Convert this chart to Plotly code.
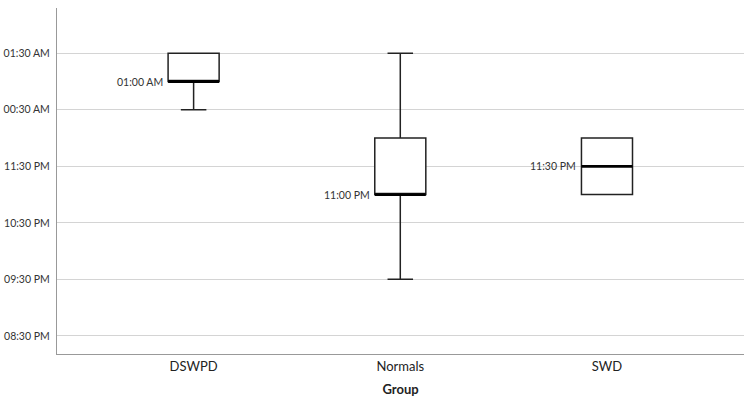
import plotly.graph_objects as go

# ---- data ----
groups = ["DSWPD", "Normals", "SWD"]
lower_whisker = ["00:30", "21:30", "23:00"]
q1_times = ["01:00", "23:00", "23:00"]
median_times = ["01:00", "23:00", "23:30"]
q3_times = ["01:30", "00:00", "00:00"]
upper_whisker = ["01:30", "01:30", "00:00"]
median_labels = ["01:00 AM", "11:00 PM", "11:30 PM"]
tick_times = ["20:30", "21:30", "22:30", "23:30", "00:30", "01:30"]
tick_labels = ["08:30 PM", "09:30 PM", "10:30 PM", "11:30 PM", "00:30 AM", "01:30 AM"]


def to_hours(t):
    h, m = map(int, t.split(":"))
    v = h + m / 60.0
    if v < 12:  # after midnight
        v += 24
    return v


lf = [to_hours(t) for t in lower_whisker]
q1 = [to_hours(t) for t in q1_times]
med = [to_hours(t) for t in median_times]
q3 = [to_hours(t) for t in q3_times]
uf = [to_hours(t) for t in upper_whisker]
tickvals = [to_hours(t) for t in tick_times]
xpos = list(range(len(groups)))
box_w = 0.247

fig = go.Figure()
fig.add_trace(go.Box(
    x=xpos, q1=q1, median=med, q3=q3, lowerfence=lf, upperfence=uf,
    width=box_w, whiskerwidth=0.5,
    fillcolor="white", line=dict(color="#222222", width=1.5),
    boxpoints=False, hoverinfo="skip", showlegend=False,
))
# thick median lines
for i in xpos:
    fig.add_trace(go.Scatter(
        x=[i - box_w / 2, i + box_w / 2], y=[med[i], med[i]],
        mode="lines", line=dict(color="black", width=2.8),
        hoverinfo="skip", showlegend=False,
    ))
    fig.add_annotation(
        x=i - box_w / 2, y=med[i], text=median_labels[i],
        xanchor="right", yanchor="middle", xshift=-3, showarrow=False,
        font=dict(family="Lato, Open Sans, sans-serif", size=10.5, color="#333333"),
    )

fig.update_layout(
    width=753, height=405,
    margin=dict(l=57, r=9, t=8, b=51, autoexpand=False),
    plot_bgcolor="white", paper_bgcolor="white",
    font=dict(family="Lato, Open Sans, sans-serif", color="#222222"),
    xaxis=dict(
        range=[-0.661, 2.663], tickvals=xpos, ticktext=groups,
        showgrid=False, zeroline=False, showline=True, automargin=False,
        linecolor="#999999", linewidth=1.2, ticks="",
        tickfont=dict(size=13, color="#222222"),
        title=dict(text="<b>Group</b>", font=dict(size=13, color="#222222"), standoff=12),
    ),
    yaxis=dict(
        range=[20.18, 26.30], tickvals=tickvals, ticktext=tick_labels,
        showgrid=True, gridcolor="#d4d4d4", gridwidth=1.2, automargin=False,
        zeroline=False, showline=True, linecolor="#999999", linewidth=1.2,
        ticks="", ticklabelstandoff=4,
        tickfont=dict(size=10.5, color="#333333"),
    ),
)

fig.write_html("out.html", config={"displayModeBar": False},
               post_script="document.body.style.margin='0';")
